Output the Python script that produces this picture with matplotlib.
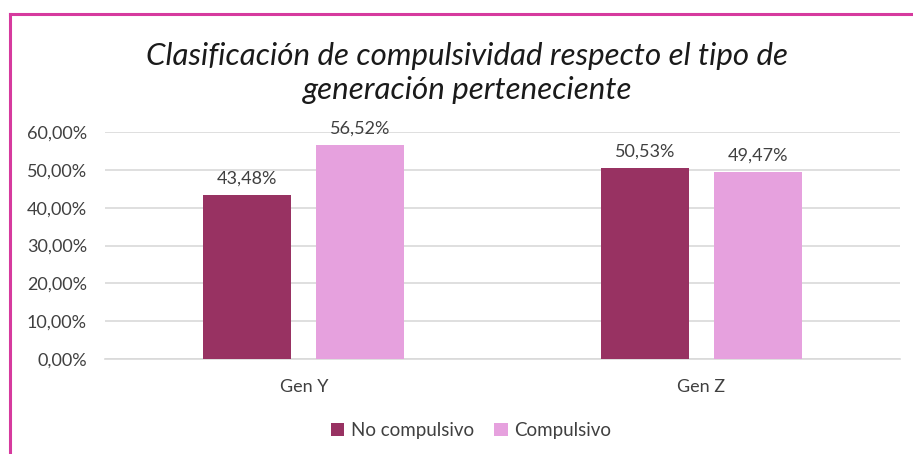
import matplotlib.pyplot as plt
import numpy as np
from matplotlib.ticker import FuncFormatter

categories = ['Gen Y', 'Gen Z']
series_names = ['No compulsivo', 'Compulsivo']
no_compulsivo = [43.48, 50.53]
compulsivo = [56.52, 49.47]
colors = ['#983262', '#E6A1DE']

plt.rcParams['font.family'] = ['Lato', 'DejaVu Sans']

fig = plt.figure(figsize=(9.13, 4.54), dpi=100)
ax = fig.add_axes([0.115, 0.209, 0.871, 0.5])

x = np.arange(len(categories))
width = 0.222
offset = 0.142
for vals, name, col, sgn in [(no_compulsivo, series_names[0], colors[0], -1),
                             (compulsivo, series_names[1], colors[1], 1)]:
    bars = ax.bar(x + sgn * offset, vals, width, color=col, label=name, zorder=3)
    for b, v in zip(bars, vals):
        ax.text(b.get_x() + b.get_width() / 2, v + 2.2, f'{v:.2f}%'.replace('.', ','),
                ha='center', va='bottom', fontsize=13, color='#404040')

ax.set_xlim(-0.5, 1.5)
ax.set_ylim(0, 60)
ax.set_yticks(np.arange(0, 61, 10))
ax.yaxis.set_major_formatter(FuncFormatter(lambda v, p: f'{v:.2f}%'.replace('.', ',')))
ax.set_xticks(x)
ax.set_xticklabels(categories)
ax.tick_params(axis='both', length=0, labelsize=13, labelcolor='#404040')
ax.tick_params(axis='x', pad=14)
ax.tick_params(axis='y', pad=13)
ax.grid(axis='y', color='#D9D9D9', linewidth=1.2, zorder=0)
for s in ['top', 'right', 'left']:
    ax.spines[s].set_visible(False)
ax.spines['bottom'].set_color('#D9D9D9')
ax.spines['bottom'].set_linewidth(1.2)

fig.text(0.512, 0.84, 'Clasificación de compulsividad respecto el tipo de\ngeneración perteneciente',
         ha='center', va='center', fontsize=22.5, style='italic', color='#1a1a1a', linespacing=1.25)

ax.legend(loc='center', bbox_to_anchor=(0.516, 0.052), bbox_transform=fig.transFigure,
          ncol=2, frameon=False, fontsize=13.5, handlelength=0.7, handleheight=0.7,
          handletextpad=0.35, columnspacing=1.1, labelcolor='#404040')

# pink frame (top and left edges visible)
fig.add_artist(plt.Line2D([0.0105, 0.0105], [0, 0.969], color='#D63A9E', lw=2.2, transform=fig.transFigure))
fig.add_artist(plt.Line2D([0.0105, 1.0], [0.969, 0.969], color='#D63A9E', lw=2.2, transform=fig.transFigure))

fig.savefig('out.png', dpi=100)
